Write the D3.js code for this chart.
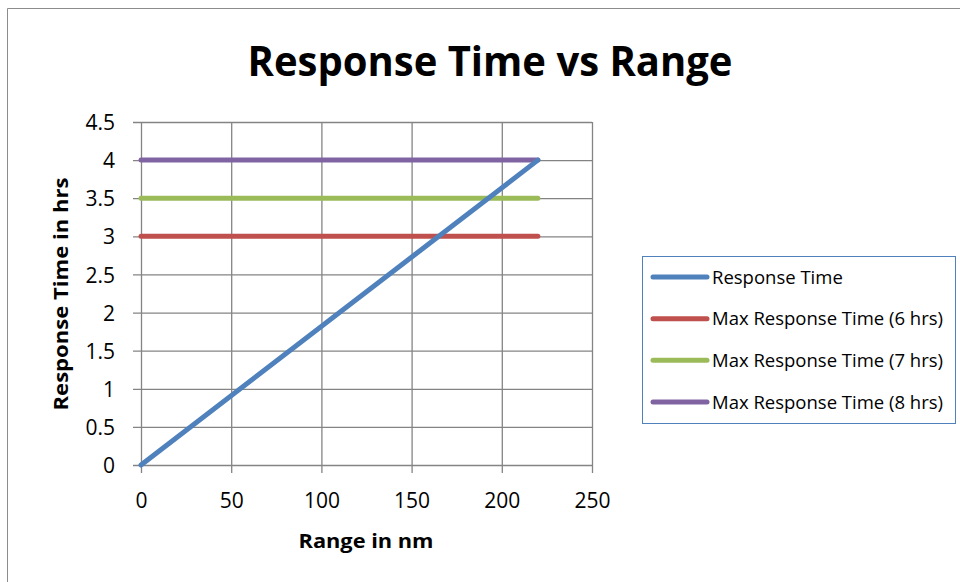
<!DOCTYPE html>
<html>
<head>
<meta charset="utf-8">
<script src="https://cdn.jsdelivr.net/npm/d3@7"></script>
<style>
  html, body { margin: 0; padding: 0; background: #fff; }
  svg { display: block; font-family: "Open Sans", "Liberation Sans", sans-serif; }
</style>
</head>
<body>
<svg id="chart" width="960" height="582"></svg>
<script>
// Range (nm) against response time (hrs)
const rangeNm = [0, 220];
const responseTime = [0, 4];
const maxResponse6 = [3, 3];
const maxResponse7 = [3.5, 3.5];
const maxResponse8 = [4, 4];

const seriesNames = [
  "Response Time",
  "Max Response Time (6 hrs)",
  "Max Response Time (7 hrs)",
  "Max Response Time (8 hrs)"
];
const seriesColors = ["#4F81BD", "#C0504D", "#9BBB59", "#8064A2"];
const seriesValues = [responseTime, maxResponse6, maxResponse7, maxResponse8];

const xTicks = [0, 50, 100, 150, 200, 250];
const yTicks = [0, 0.5, 1, 1.5, 2, 2.5, 3, 3.5, 4, 4.5];

const titleText = "Response Time vs Range";
const xTitle = "Range in nm";
const yTitle = "Response Time in hrs";

const svg = d3.select("#chart");
const plot = { left: 141, right: 592, top: 122, bottom: 465 };

const x = d3.scaleLinear().domain([0, 250]).range([plot.left, plot.right]);
const y = d3.scaleLinear().domain([0, 4.5]).range([plot.bottom, plot.top]);

const gridColor = "#848484";

// chart frame
svg.append("path")
  .attr("d", "M7.5,582 V8.5 H960")
  .attr("fill", "none")
  .attr("stroke", "#8c8c8c")
  .attr("stroke-width", 1);

// title
svg.append("text")
  .attr("x", 490).attr("y", 76)
  .attr("text-anchor", "middle")
  .attr("font-weight", "bold")
  .attr("font-size", 41)
  .attr("textLength", 485)
  .attr("lengthAdjust", "spacingAndGlyphs")
  .attr("fill", "#000")
  .text(titleText);

// horizontal gridlines + y axis
const yAxis = d3.axisLeft(y).tickValues(yTicks).tickSize(8).tickPadding(18)
  .tickFormat(d => String(d));
svg.append("g")
  .attr("transform", `translate(${plot.left},0)`)
  .call(yAxis)
  .call(g => g.select(".domain").remove())
  .call(g => g.selectAll(".tick line").attr("stroke", gridColor).attr("stroke-width", 1.3)
    .attr("x2", plot.right - plot.left).attr("x1", -8))
  .call(g => g.selectAll(".tick text").attr("font-size", 21).attr("fill", "#000")
    .attr("font-family", "'Open Sans', sans-serif").attr("x", -26).attr("dy", "0.36em"));

// vertical gridlines + x axis
const xAxis = d3.axisBottom(x).tickValues(xTicks).tickSize(8).tickPadding(12)
  .tickFormat(d => String(d));
svg.append("g")
  .attr("transform", `translate(0,${plot.bottom})`)
  .call(xAxis)
  .call(g => g.select(".domain").remove())
  .call(g => g.selectAll(".tick line").attr("stroke", gridColor).attr("stroke-width", 1.3)
    .attr("y1", plot.top - plot.bottom).attr("y2", 8))
  .call(g => g.selectAll(".tick text").attr("font-size", 21).attr("fill", "#000")
    .attr("font-family", "'Open Sans', sans-serif").attr("y", 43).attr("dy", 0));

// series lines
const line = d3.line().x(d => x(d[0])).y(d => y(d[1]));
const drawOrder = [1, 2, 3, 0];
drawOrder.forEach(i => {
  const pts = rangeNm.map((r, j) => [r, seriesValues[i][j]]);
  svg.append("path")
    .datum(pts)
    .attr("d", line)
    .attr("fill", "none")
    .attr("stroke", seriesColors[i])
    .attr("stroke-width", 5)
    .attr("stroke-linecap", "round")
    .attr("stroke-linejoin", "round");
});

// axis titles
svg.append("text")
  .attr("x", 366).attr("y", 548)
  .attr("text-anchor", "middle")
  .attr("font-weight", "bold")
  .attr("font-size", 19)
  .attr("textLength", 135)
  .attr("lengthAdjust", "spacingAndGlyphs")
  .text(xTitle);

svg.append("text")
  .attr("transform", "translate(68,294) rotate(-90)")
  .attr("text-anchor", "middle")
  .attr("font-weight", "bold")
  .attr("font-size", 19)
  .attr("textLength", 233)
  .attr("lengthAdjust", "spacingAndGlyphs")
  .text(yTitle);

// legend
const legend = svg.append("g");
legend.append("rect")
  .attr("x", 642.5).attr("y", 256.5)
  .attr("width", 313).attr("height", 167)
  .attr("fill", "#fff")
  .attr("stroke", "#4F81BD")
  .attr("stroke-width", 1);

const rowY = d3.scalePoint().domain(seriesNames).range([277, 402]);
const items = legend.selectAll("g.item").data(seriesNames).join("g")
  .attr("class", "item")
  .attr("transform", d => `translate(0,${rowY(d)})`);
items.append("line")
  .attr("x1", 653).attr("x2", 707)
  .attr("stroke", (d, i) => seriesColors[i])
  .attr("stroke-width", 5)
  .attr("stroke-linecap", "round");
items.append("text")
  .attr("x", 712).attr("dy", "0.36em")
  .attr("font-size", 18.5)
  .attr("fill", "#000")
  .text(d => d);
</script>
</body>
</html>
